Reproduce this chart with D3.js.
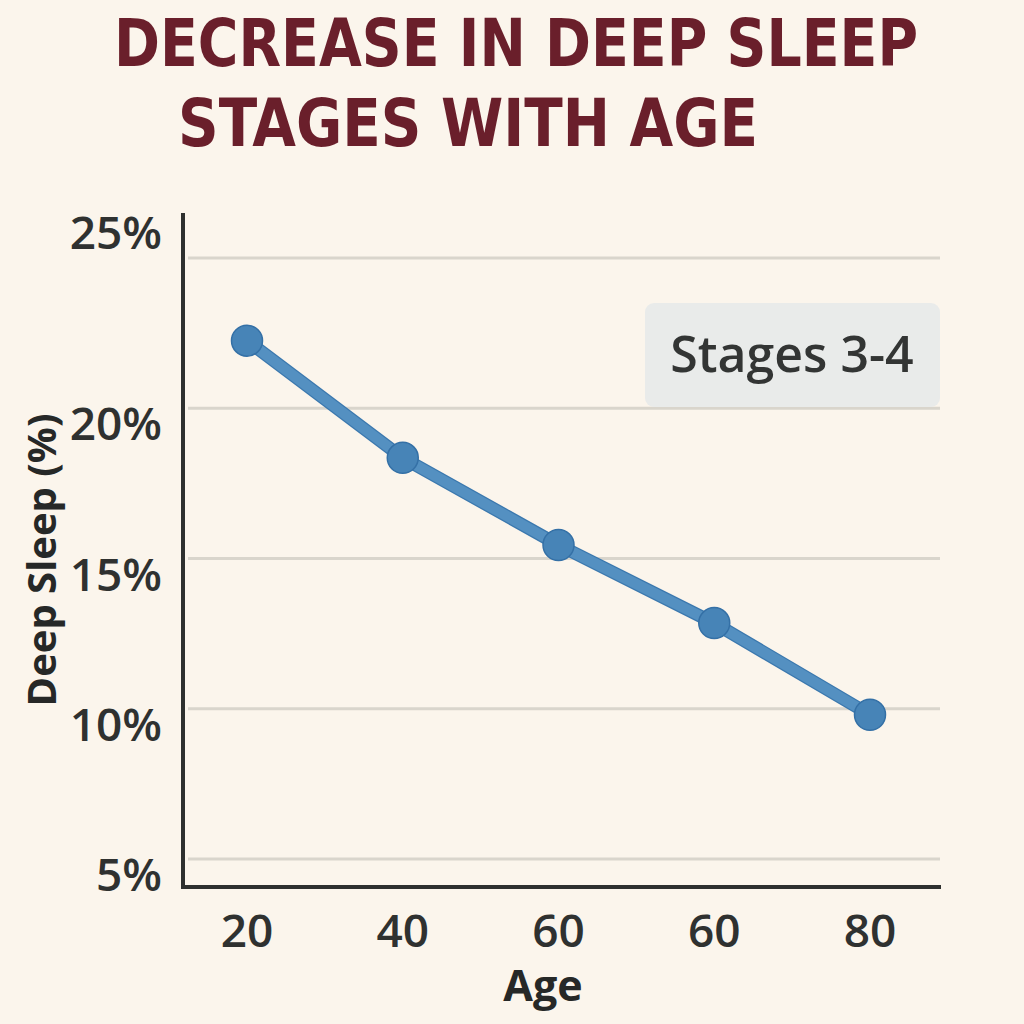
<!DOCTYPE html>
<html><head><meta charset="utf-8">
<script src="https://cdn.jsdelivr.net/npm/d3@7"></script>
<style>html,body{margin:0;padding:0;background:#fbf5ec;}</style>
</head><body>
<svg id="chart" width="1024" height="1024"></svg>
<script>
const titleLines = ["DECREASE IN DEEP SLEEP", "STAGES WITH AGE"];
const ageLabels = ["20", "40", "60", "60", "80"];
const deepSleep = [22.25, 18.35, 15.45, 12.85, 9.8];
const yTicks = [5, 10, 15, 20, 25];
const legendLabel = "Stages 3-4";
const xTitle = "Age";
const yTitle = "Deep Sleep (%)";

const svg = d3.select("#chart");
svg.append("rect").attr("width",1024).attr("height",1024).attr("fill","#fbf5ec");

// Title
const titleFont = "'Liberation Sans Narrow','DejaVu Sans Condensed','DejaVu Sans',sans-serif";
svg.append("text").attr("x",114).attr("y",66).text(titleLines[0])
  .attr("font-family",titleFont).attr("font-weight","bold").attr("font-size",66)
  .attr("fill","#6a1f2b").attr("textLength",804).attr("lengthAdjust","spacingAndGlyphs");
svg.append("text").attr("x",178).attr("y",146).text(titleLines[1])
  .attr("font-family",titleFont).attr("font-weight","bold").attr("font-size",66)
  .attr("fill","#6a1f2b").attr("textLength",580).attr("lengthAdjust","spacingAndGlyphs");

const x = d3.scaleLinear().domain([0, ageLabels.length-1]).range([247, 870]);
const y = d3.scaleLinear().domain([5, 25]).range([859, 258]);
const font = "'Open Sans','Noto Sans',sans-serif";

// gridlines
svg.append("g").selectAll("line").data(yTicks).join("line")
  .attr("x1",188).attr("x2",940).attr("y1",d=>y(d)).attr("y2",d=>y(d))
  .attr("stroke","#d9d5cc").attr("stroke-width",3);

// axes lines
svg.append("line").attr("x1",183).attr("x2",183).attr("y1",213).attr("y2",889)
  .attr("stroke","#2e302f").attr("stroke-width",4);
svg.append("line").attr("x1",181).attr("x2",941).attr("y1",887).attr("y2",887)
  .attr("stroke","#2e302f").attr("stroke-width",4);

// y tick labels (top label sits above its gridline)
svg.append("g").selectAll("text").data(yTicks).join("text")
  .attr("x",162).attr("y",d=> d===d3.max(yTicks) ? y(d)-9 : y(d)+32)
  .attr("text-anchor","end").attr("font-family",font).attr("font-size",46)
  .attr("font-weight",600).attr("fill","#2f3130").text(d=>d+"%");

// x tick labels
svg.append("g").selectAll("text").data(ageLabels).join("text")
  .attr("x",(d,i)=>x(i)).attr("y",947).attr("text-anchor","middle")
  .attr("font-family",font).attr("font-size",46).attr("font-weight",600)
  .attr("fill","#2f3130").text(d=>d);

// axis titles
svg.append("text").attr("x",543).attr("y",1001).attr("text-anchor","middle")
  .attr("font-family",font).attr("font-size",43).attr("font-weight",700)
  .attr("fill","#262827").text(xTitle);
svg.append("text").attr("transform","translate(56,560) rotate(-90)").attr("text-anchor","middle")
  .attr("font-family",font).attr("font-size",40).attr("font-weight",700)
  .attr("fill","#262827").text(yTitle);

// legend box
svg.append("rect").attr("x",645).attr("y",303).attr("width",295).attr("height",104)
  .attr("rx",9).attr("fill","#e9ebea");
svg.append("text").attr("x",792).attr("y",372).attr("text-anchor","middle")
  .attr("font-family",font).attr("font-size",50).attr("font-weight",600)
  .attr("fill","#333534").text(legendLabel);

// line
const line = d3.line().x((d,i)=>x(i)).y(d=>y(d));
svg.append("path").datum(deepSleep).attr("d",line).attr("fill","none")
  .attr("stroke","#3b78ae").attr("stroke-width",13).attr("stroke-linejoin","round");
svg.append("path").datum(deepSleep).attr("d",line).attr("fill","none")
  .attr("stroke","#5490c1").attr("stroke-width",10.5).attr("stroke-linejoin","round");

// points
svg.append("g").selectAll("circle").data(deepSleep).join("circle")
  .attr("cx",(d,i)=>x(i)).attr("cy",d=>y(d)).attr("r",15.5)
  .attr("fill","#4784b7").attr("stroke","#3470a6").attr("stroke-width",1.5);
</script>
</body></html>
